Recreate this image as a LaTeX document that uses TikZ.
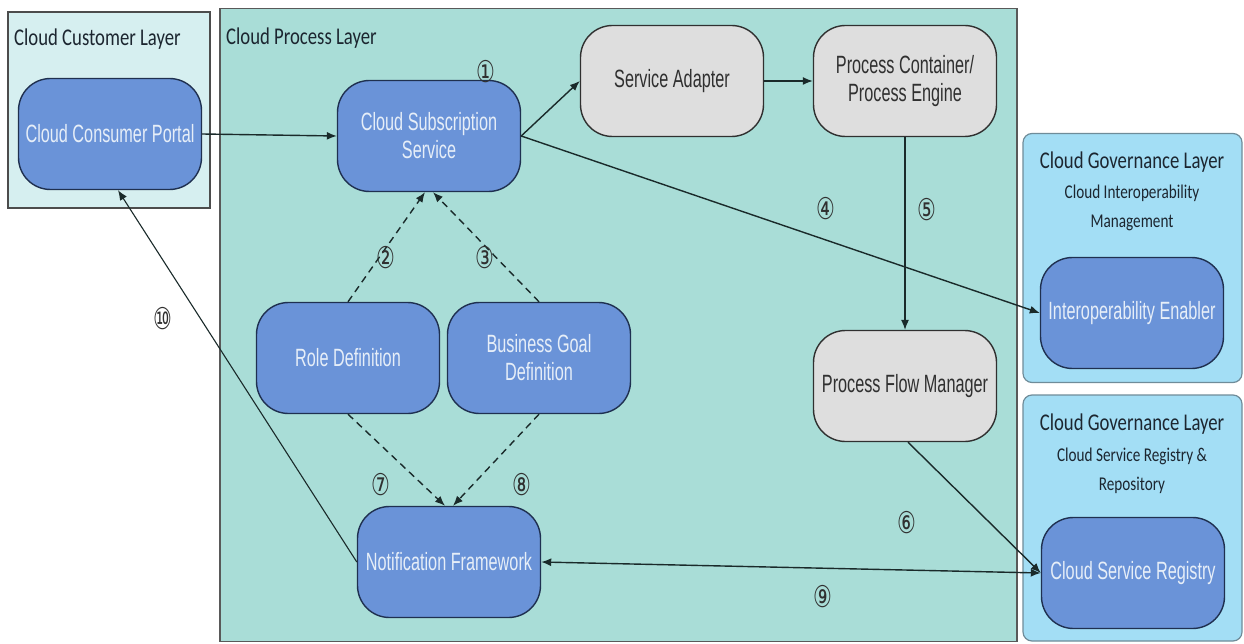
\documentclass[tikz,border=0pt]{standalone}
\usepackage{fontspec}
\setmainfont{Liberation Sans}
\newfontfamily\nodefont[FakeStretch=0.65]{Liberation Sans}
\newfontfamily\titlefont[FakeStretch=0.78]{Carlito}
\newfontfamily\numfont[FakeStretch=0.7]{DejaVu Sans}
\usetikzlibrary{arrows.meta}
\definecolor{procfill}{HTML}{A9DDD7}
\definecolor{custfill}{HTML}{D6EFF0}
\definecolor{govfill}{HTML}{A3DEF5}
\definecolor{govline}{HTML}{6F8C99}
\definecolor{bluefill}{HTML}{6A93D8}
\definecolor{blueline}{HTML}{1F3050}
\definecolor{greyfill}{HTML}{DEDEDE}
\definecolor{greyline}{HTML}{303030}
\definecolor{lighttext}{HTML}{E6EEF8}
\definecolor{darktext}{HTML}{1C2630}
\definecolor{edgecol}{HTML}{1A2A2A}
\tikzset{
  layerbox/.style={draw=#1, line width=1.6pt, inner sep=0pt},
  govbox/.style={draw=govline, fill=govfill, line width=1.2pt, rounded corners=9pt, inner sep=0pt, minimum width=219pt},
  bluebox/.style={draw=blueline, fill=bluefill, line width=1.4pt, rounded corners=32pt,
    minimum width=183pt, minimum height=111pt, align=center, text=lighttext,
    font=\nodefont\fontsize{25}{28}\selectfont, inner sep=2pt},
  greybox/.style={bluebox, draw=greyline, fill=greyfill, text=greyline},
  layertitle/.style={font=\titlefont\fontsize{24}{27}\selectfont, text=darktext, anchor=base west, inner sep=0pt},
  govtitle/.style={font=\titlefont\fontsize{24}{27}\selectfont, text=darktext, anchor=base, inner sep=0pt},
  govsub/.style={font=\titlefont\fontsize{19.5}{22}\selectfont, text=darktext, anchor=base, inner sep=0pt},
  num/.style={font=\numfont\fontsize{30}{32}\selectfont, text=greyline, inner sep=0pt},
  arr/.style={draw=edgecol, line width=1.4pt, -{Latex[length=10pt,width=8pt]}},
  darr/.style={arr, {Latex[length=10pt,width=8pt]}-{Latex[length=10pt,width=8pt]}},
  dasharr/.style={arr, dash pattern=on 7pt off 5pt},
  thinarr/.style={arr, line width=1.1pt}
}
\begin{document}
\begin{tikzpicture}[x=1pt,y=-1pt]
\useasboundingbox (0,0) rectangle (1244,644);
\fill[white] (0,0) rectangle (1244,644);
% layers
\node[layerbox=gray!70!black, fill=procfill, minimum width=797pt, minimum height=633pt] (proc) at (618.5,325) {};
\node[layerbox=gray!60!black, fill=custfill, minimum width=202pt, minimum height=196pt] (cust) at (109,110) {};
\node[govbox, minimum height=249pt] (gov1) at (1132.5,258) {};
\node[govbox, minimum height=246pt] (gov2) at (1132.5,518) {};
% titles
\node[layertitle] (tcust) at (14,46) {Cloud Customer Layer};
\node[layertitle] (tproc) at (226,45) {Cloud Process Layer};
\node[govtitle] (tg1) at (1132,169) {Cloud Governance Layer};
\node[govsub] (tg1a) at (1132,199) {Cloud Interoperability};
\node[govsub] (tg1b) at (1132,228) {Management};
\node[govtitle] (tg2) at (1132,430) {Cloud Governance Layer};
\node[govsub] (tg2a) at (1132,461) {Cloud Service Registry \&};
\node[govsub] (tg2b) at (1132,490) {Repository};
% nodes
\node[bluebox] (portal) at (110,134) {Cloud Consumer Portal};
\node[bluebox] (sub) at (429,136) {Cloud Subscription\\Service};
\node[greybox] (sa) at (672,81) {Service Adapter};
\node[greybox] (pc) at (905,81) {Process Container/\\Process Engine};
\node[bluebox] (role) at (348,358) {Role Definition};
\node[bluebox] (bg) at (539,358) {Business Goal\\Definition};
\node[bluebox] (nf) at (449,562) {Notification Framework};
\node[greybox] (pfm) at (905,386) {Process Flow Manager};
\node[bluebox] (ie) at (1132,313) {Interoperability Enabler};
\node[bluebox] (csr) at (1133,573) {Cloud Service Registry};
% edges
\draw[arr] (portal.east) -- (sub.west);
\draw[arr] (sub.east) -- (sa.west);
\draw[arr] (sa.east) -- (pc.west);
\draw[thinarr] (pc.south) -- (pfm.north);
\draw[arr] (sub.east) -- (ie.west);
\draw[dasharr] (role.north) -- ([xshift=-4pt]sub.south);
\draw[dasharr] (bg.north) -- ([xshift=4pt]sub.south);
\draw[dasharr] (role.south) -- ([xshift=-4pt]nf.north);
\draw[dasharr] (bg.south) -- ([xshift=4pt]nf.north);
\draw[arr] ([xshift=3pt]pfm.south) -- (csr.west);
\draw[darr] (nf.east) -- (csr.west);
\draw[thinarr] (nf.west) -- ([xshift=8pt]portal.south);
% numbers
\node[num] (n1) at (486,72) {①};
\node[num] (n2) at (386,258) {②};
\node[num] (n3) at (485,258) {③};
\node[num] (n4) at (826,209) {④};
\node[num] (n5) at (927,210) {⑤};
\node[num] (n6) at (907,523) {⑥};
\node[num] (n7) at (381,485) {⑦};
\node[num] (n8) at (522,485) {⑧};
\node[num] (n9) at (823,597) {⑨};
\node[num] (n10) at (163,319) {⑩};
\end{tikzpicture}
\end{document}
